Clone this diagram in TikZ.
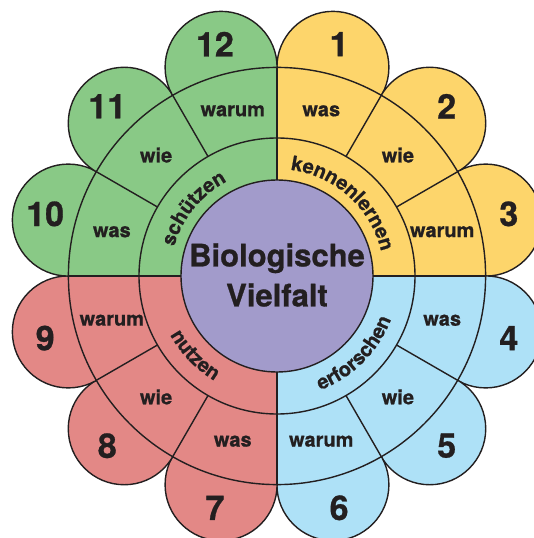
\documentclass[tikz,border=0pt]{standalone}
\usepackage{fontspec}
\setmainfont{TeX Gyre Heros}[BoldFeatures={FakeBold=0.8}]
\usetikzlibrary{decorations.text}
\definecolor{clYellow}{RGB}{253,213,107}
\definecolor{clGreen} {RGB}{137,201,134}
\definecolor{clRed}   {RGB}{227,136,134}
\definecolor{clBlue}  {RGB}{174,225,247}
\definecolor{clPurple}{RGB}{162,155,203}
\definecolor{clInk}   {RGB}{ 35, 31, 32}
\tikzset{
  %% outlines
  rim/.style={draw=clInk, line width=1.4pt},
  %% texts
  cellLbl/.style={
    font=\fontsize{20}{24}\selectfont\bfseries,
    text=clInk, inner sep=0pt
  },
  petalNum/.style={
    font=\fontsize{34}{40}\selectfont\bfseries,
    text=clInk, inner sep=0pt
  },
  centreLbl/.style={
    font=\fontsize{31}{40}\selectfont\bfseries,
    text=clInk, align=center, inner sep=0pt
  },
  %% curved ring text
  ringTxt/.style={
    decorate, decoration={text along path, text align=center,
      text={|\fontsize{20}{24}\selectfont\bfseries\color{clInk}|#1}}
  }
}

\begin{document}
\begin{tikzpicture}[x=1pt, y=1pt]

\clip (-277,-262) rectangle (257,276);

%% ═══════════════════════════════════════════════════════════════
%%  PETALS
%% ═══════════════════════════════════════════════════════════════

\foreach \ang/\col in {75/clYellow, 45/clYellow, 15/clYellow,
                       -15/clBlue, -45/clBlue, -75/clBlue,
                       -105/clRed, -135/clRed, -165/clRed,
                       165/clGreen, 135/clGreen, 105/clGreen}
  \filldraw[rim, fill=\col] (\ang:216) circle[radius=56];

%% ═══════════════════════════════════════════════════════════════
%%  QUADRANTS AND RINGS
%% ═══════════════════════════════════════════════════════════════

\foreach \a/\col in {0/clYellow, 90/clGreen, 180/clRed, 270/clBlue}
  \fill[\col] (0,0) -- (\a:208.6)
    arc[start angle=\a, delta angle=90, radius=208.6] -- cycle;

\draw[rim] (0,0) circle[radius=208.6];
\draw[rim] (0,0) circle[radius=138];

%% quadrant borders
\foreach \a in {0, 90, 180, 270}
  \draw[rim] (\a:96) -- (\a:208.6);

%% cell borders
\foreach \a in {30, 60, 120, 150, 210, 240, 300, 330}
  \draw[rim] (\a:138) -- (\a:208.6);

\filldraw[rim, fill=clPurple] (0,0) circle[radius=96];

\node[centreLbl] (title) at (0,1) {Biologische\\Vielfalt};

%% ═══════════════════════════════════════════════════════════════
%%  RING TEXTS
%% ═══════════════════════════════════════════════════════════════

\path[ringTxt=kennenlernen] (108:107) arc[start angle=108, end angle=-12, radius=107];
\path[ringTxt=schützen]     (201:107) arc[start angle=201, end angle=81, radius=107];
\path[ringTxt=nutzen]       (164:122) arc[start angle=164, end angle=284, radius=122];
\path[ringTxt=erforschen]   (255:122) arc[start angle=255, end angle=375, radius=122];

%% ═══════════════════════════════════════════════════════════════
%%  CELL WORDS AND PETAL NUMBERS
%% ═══════════════════════════════════════════════════════════════

\foreach \ang/\num/\word in {75/1/was, 45/2/wie, 15/3/warum,
                             -15/4/was, -45/5/wie, -75/6/warum,
                             -105/7/was, -135/8/wie, -165/9/warum,
                             165/10/was, 135/11/wie, 105/12/warum} {
  \node[cellLbl] (cell\num) at (\ang:171) {\word};
  \node[petalNum] (num\num) at (\ang:240) {\num};
}

\end{tikzpicture}
\end{document}
